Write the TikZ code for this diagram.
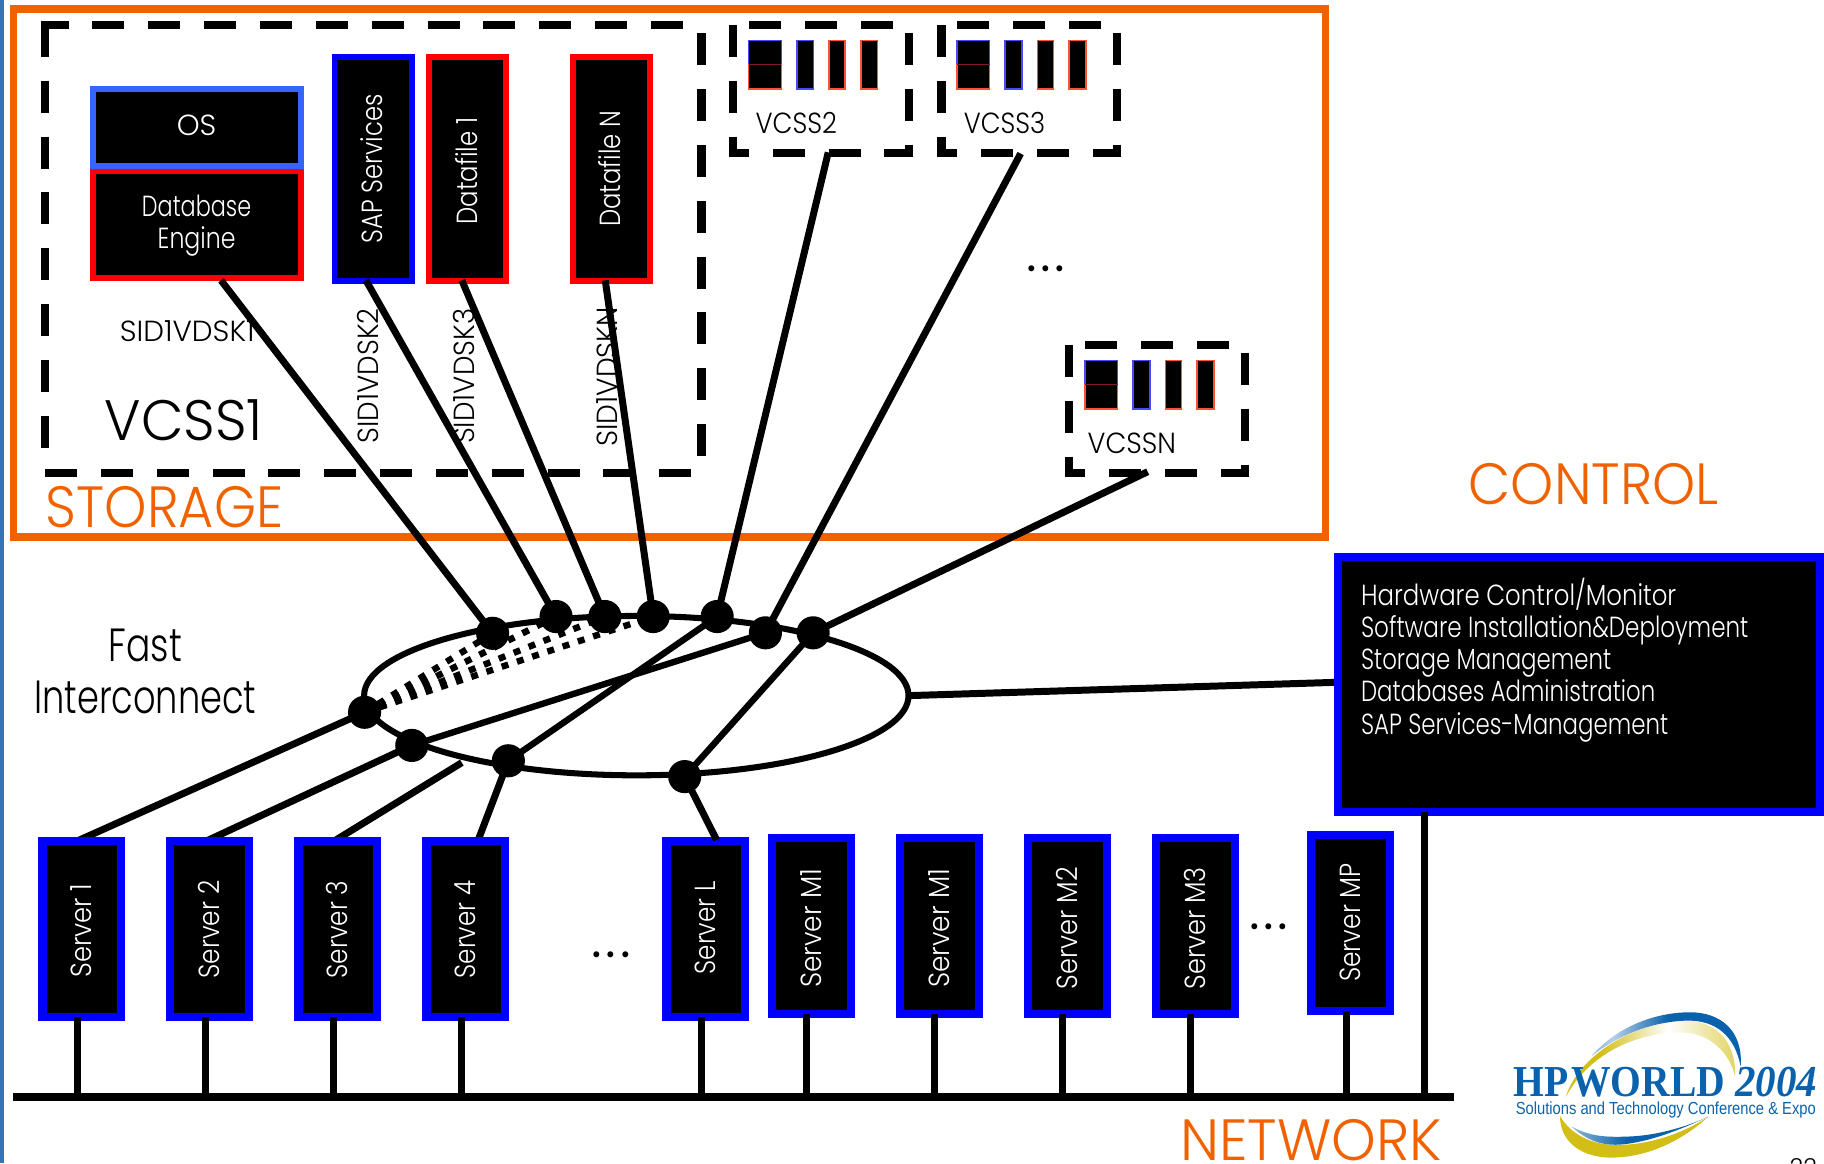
\documentclass[tikz,border=0pt]{standalone}
\usepackage{graphicx}
\usepackage{fontspec}
\setmainfont{Poppins}[UprightFont=* Light]
\newfontfamily\logoserif{Liberation Serif}
\newfontfamily\logosans{Liberation Sans}
\usetikzlibrary{calc,shapes.geometric}
\definecolor{orng}{HTML}{F06200}
\definecolor{srvblue}{HTML}{0000FF}
\definecolor{osblue}{HTML}{3366FF}
\definecolor{redb}{HTML}{FF0000}
\definecolor{strip}{HTML}{3274B6}
\definecolor{miniblue}{HTML}{4848FF}
\definecolor{minired}{HTML}{FF5030}
\definecolor{minimid}{HTML}{801A30}
\definecolor{hpblue}{HTML}{0B62AC}
\definecolor{hpgold}{HTML}{D2BE14}
\pgfdeclarehorizontalshading{bluearc}{100bp}{color(0bp)=(hpblue); color(22bp)=(hpblue!55); color(32bp)=(hpblue!30); color(50bp)=(hpblue); color(100bp)=(hpblue)}
\pgfdeclarehorizontalshading{goldarc}{100bp}{color(0bp)=(hpgold); color(35bp)=(hpgold); color(55bp)=(white); color(85bp)=(hpgold); color(100bp)=(hpgold)}
\pgfdeclarehorizontalshading{lowblue}{100bp}{color(0bp)=(white); color(30bp)=(hpblue!60); color(45bp)=(hpblue); color(100bp)=(hpblue)}
\newcommand\fw[3]{{\fontsize{#1bp}{#1bp}\selectfont\resizebox{#2bp}{\height}{#3}}}
\newcommand\threedots{{\fontsize{50bp}{50bp}\selectfont .\kern 3bp.\kern 3bp.}}
\pgfdeclarelayer{base}
\pgfdeclarelayer{lines}
\pgfsetlayers{base,lines,main}
\tikzset{
  stbox/.style={draw,fill=black,line width=5bp,inner sep=0pt,outer sep=0pt,text=white,align=center},
  srv/.style={draw=srvblue,fill=black,line width=7bp,minimum width=67.5bp,minimum height=151bp,inner sep=0pt,outer sep=0pt},
  lbl/.style={inner sep=0pt,outer sep=0pt,anchor=base},
  wlbl/.style={lbl,text=white},
  rot/.style={lbl,rotate=90},
  wrot/.style={wlbl,rotate=90},
  olbl/.style={lbl,text=orng},
  dashln/.style={line width=7bp,dash pattern=on 27.5bp off 20.5bp},
  conn/.style={line width=6bp},
  thin conn/.style={line width=5.5bp},
  wire/.style={line width=6bp},
  ringdot/.style={circle,fill=black,minimum size=28.5bp,inner sep=0pt,outer sep=0pt},
  fan/.style={line width=5.5bp,dash pattern=on 6bp off 7.8bp},
}
\newcommand\vcssdash[4]{%
  \draw[dashln] (#1,#3+.2) -- (#1,#4+3.5);
  \draw[dashln] (#1+13.7,#3) -- (#2,#3);
  \draw[dashln] (#2,#3+7) -- (#2,#4+3.5);
  \draw[dashln,dash phase=10.5bp] (#1-3.5,#4) -- (#2+3.5,#4);
  \begin{scope}[shift={(#1,#3)},line width=1.3bp]
    \draw[miniblue,fill=black] (13.2,13.7) rectangle (41.5,34.3);
    \draw[minired,fill=black] (13.2,34.3) rectangle (41.5,55.2);
    \draw[minimid] (13.2,34.3) -- (41.5,34.3);
    \draw[miniblue,fill=black] (54.7,13.7) rectangle (69.2,55.2);
    \draw[minired,fill=black] (82.4,13.7) rectangle (96.3,55.2);
    \draw[minired,fill=black] (109.7,13.7) rectangle (124.1,55.2);
  \end{scope}}
\begin{document}
\begin{tikzpicture}[x=1bp,y=-1bp]
\useasboundingbox (0,0) rectangle (1568,1000);
\begin{pgfonlayer}{base}
\fill[strip] (0,0) rectangle (3.6,1000);
\draw[orng,line width=6.6bp] (11.5,7.7) rectangle (1139.5,461.5);
% VCSS1 dashed frame
\draw[dashln] (38.5,21.4) -- (38.5,386);
\draw[dashln,dash phase=3.5bp] (35,21.4) -- (590,21.4);
\draw[dashln] (603,28.6) -- (603,393);
\draw[dashln] (38.7,406.5) -- (596,406.5);
\vcssdash{630.3}{781.4}{21.3}{131.3}
\vcssdash{809.3}{960.4}{21.3}{131.3}
\vcssdash{919.3}{1070.4}{296.3}{406.3}
% storage boxes
\node[stbox,draw=osblue,minimum width=178.5bp,minimum height=66bp] (os) at (169.5,109.5) {};
\node[stbox,draw=redb,minimum width=178.5bp,minimum height=91.3bp] (db) at (169.5,193.1) {};
\node[stbox,draw=srvblue,minimum width=66.5bp,minimum height=192.5bp] (sap) at (320.75,145.25) {};
\node[stbox,draw=redb,minimum width=66bp,minimum height=192.5bp] (df1) at (402,145.25) {};
\node[stbox,draw=redb,minimum width=66bp,minimum height=192.5bp] (dfn) at (525.5,145.25) {};
\node[wlbl] (tos) at (169,116.8) {\fw{25}{34}{OS}};
\node[wlbl] (tdb1) at (169,186.5) {\fw{25}{94}{Database}};
\node[wlbl] (tdb2) at (169,213.8) {\fw{25}{67}{Engine}};
\node[wrot] (tsap) at (328.9,145) {\fw{25}{128}{SAP Services}};
\node[wrot] (tdf1) at (410.6,147) {\fw{25}{92}{Datafile 1}};
\node[wrot] (tdfn) at (533.8,145) {\fw{25}{100}{Datafile N}};
\node[lbl] (sid1) at (161,293.5) {\fw{25}{116}{SID1VDSK1}};
\node[rot] (sid2) at (325.7,323) {\fw{25}{116}{SID1VDSK2}};
\node[rot] (sid3) at (407.8,323.5) {\fw{25}{116}{SID1VDSK3}};
\node[rot] (sidn) at (531,324) {\fw{25}{120}{SID1VDSKN}};
\node[lbl] (vc1) at (158,378.5) {\fw{49}{136}{VCSS1}};
\node[olbl] (tst) at (141.5,453.2) {\fw{50}{204}{STORAGE}};
\node[lbl] (vc2) at (684.5,114.6) {\fw{25}{70}{VCSS2}};
\node[lbl] (vc3) at (863.5,114.6) {\fw{25}{70}{VCSS3}};
\node[lbl] (vcn) at (973,389.8) {\fw{25}{76}{VCSSN}};
\node[lbl] (dots1) at (899,233) {\threedots};
\node[lbl] (fast) at (125,568.3) {\fw{40}{63}{Fast}};
\node[lbl] (inter) at (125,613) {\fw{40}{191}{Interconnect}};
\node[olbl] (tctl) at (1370,433.3) {\fw{50}{215}{CONTROL}};
\node[olbl] (tnet) at (1127,997.4) {\fw{50}{225}{NETWORK}};
\node[lbl] (dots2) at (525.5,823.2) {\threedots};
\node[lbl] (dots3) at (1091,799) {\threedots};
% logo
\begin{scope}[shift={(1203.5,842.4)},x=.28654bp,y=-.28654bp]
  \shade[shading=goldarc] (497,352) .. controls (530,240) and (680,130) .. (860,122) .. controls (960,125) and (1010,200) .. (1005,290) .. controls (990,220) and (930,160) .. (850,158) .. controls (700,155) and (560,230) .. (497,352) -- cycle;
  \shade[shading=bluearc] (575,228) .. controls (660,130) and (780,97) .. (870,97) .. controls (960,97) and (1030,150) .. (1022,260) .. controls (1005,170) and (950,120) .. (860,122) .. controls (750,125) and (650,170) .. (575,228) -- cycle;
  \fill[hpgold] (480,408) .. controls (480,490) and (550,535) .. (640,533) .. controls (760,530) and (860,470) .. (925,410) .. controls (850,460) and (750,495) .. (650,495) .. controls (570,495) and (510,460) .. (480,408) -- cycle;
  \shade[shading=lowblue] (515,440) .. controls (570,490) and (620,500) .. (680,492) .. controls (770,480) and (860,440) .. (925,410) .. controls (850,445) and (760,468) .. (680,470) .. controls (620,472) and (570,470) .. (515,440) -- cycle;
\end{scope}
\node[lbl,text=hpblue] (hpw) at (1392,943) {\logoserif\bfseries\fw{38}{182}{HP\kern-.18em{} WORLD}};
\node[lbl,text=hpblue] (hpy) at (1527,943) {\logoserif\bfseries\itshape\fw{38}{70.5}{2004}};
\node[lbl,text=hpblue] (hps) at (1432,958) {\logosans\fw{15}{258}{Solutions and Technology Conference \& Expo}};
\end{pgfonlayer}
% ring and dots
\coordinate (srvthree) at (397,655.6);
\node[draw,ellipse,line width=5.2bp,minimum width=468bp,minimum height=137bp,inner sep=0pt,outer sep=0pt] (ring) at (547,598) {};
\node[ringdot] (a) at (313.4,612.3) {};
\node[ringdot] (b) at (354,640.8) {};
\node[ringdot] (c) at (437,654) {};
\node[ringdot] (d) at (588.6,667.6) {};
\node[ringdot] (e) at (423.5,544.4) {};
\node[ringdot] (f) at (478,530) {};
\node[ringdot] (g) at (520,530) {};
\node[ringdot] (h) at (561.5,530) {};
\node[ringdot] (i) at (616.5,530) {};
\node[ringdot] (j) at (658,544) {};
\node[ringdot] (k) at (699,544) {};
% servers
\node[srv] (s1) at (70.25,798.5) {};
\node[srv] (s2) at (180.25,798.5) {};
\node[srv] (s3) at (290.4,798.5) {};
\node[srv] (s4) at (400.4,798.5) {};
\node[srv] (sl) at (606.65,798.5) {};
\node[srv] (m1) at (697.7,796) {};
\node[srv] (m1b) at (807.5,796) {};
\node[srv] (m2) at (917.7,796) {};
\node[srv] (m3) at (1027.7,796) {};
\node[srv] (mp) at (1160.85,793.25) {};
\node[wrot] (ts1) at (78.3,800) {\fw{25}{81}{Server 1}};
\node[wrot] (ts2) at (188.7,799) {\fw{25}{84}{Server 2}};
\node[wrot] (ts3) at (298.7,799) {\fw{25}{84}{Server 3}};
\node[wrot] (ts4) at (408.75,799) {\fw{25}{84}{Server 4}};
\node[wrot] (tsl) at (615,797.6) {\fw{25}{80}{Server L}};
\node[wrot] (tm1) at (705.9,798) {\fw{25}{102}{Server M1}};
\node[wrot] (tm1b) at (816,798) {\fw{25}{102}{Server M1}};
\node[wrot] (tm2) at (926,798) {\fw{25}{105}{Server M2}};
\node[wrot] (tm3) at (1036,798) {\fw{25}{105}{Server M3}};
\node[wrot] (tmp) at (1169.8,793) {\fw{25}{102}{Server MP}};
% control box
\node[draw=srvblue,fill=black,line width=7bp,minimum width=414bp,minimum height=219bp,inner sep=0pt,outer sep=0pt] (ctl) at (1357.5,588.5) {};
\node[wlbl,anchor=base west] (c1) at (1170,520.6) {\fw{25}{271}{Hardware Control/Monitor}};
\node[wlbl,anchor=base west] (c2) at (1170,548.2) {\fw{25}{333}{Software Installation\&Deployment}};
\node[wlbl,anchor=base west] (c3) at (1170,575.8) {\fw{25}{215}{Storage Management}};
\node[wlbl,anchor=base west] (c4) at (1170,603.4) {\fw{25}{253}{Databases Administration}};
\node[wlbl,anchor=base west] (c5) at (1170,631) {\fw{25}{264}{SAP Services-Management}};
\node[lbl,anchor=north east] (pgn) at (1562,995.5) {\fw{20}{23.5}{22}};
% connectors behind server and control boxes
\begin{pgfonlayer}{lines}
\draw[conn] (190,241) coordinate (fromdb) -- (e.center);
\draw[conn] (314.6,241) coordinate (fromsap) -- (f.center);
\draw[conn] (397,241) coordinate (fromdf1) -- (g.center);
\draw[conn] (520.3,241) coordinate (fromdfn) -- (h.center);
\draw[conn] (712,131) coordinate (fromv2) -- (i.center);
\draw[conn] (877.4,132) coordinate (fromv3) -- (j.center);
\draw[conn] (986.6,405.5) coordinate (fromvn) -- (k.center);
\draw[conn] (61.8,725) coordinate (froms1) -- (a.center);
\draw[conn] (173,725) coordinate (froms2) -- (b.center);
\draw[conn] (284,725) coordinate (froms3) -- (srvthree);
\draw[conn] (410,725) coordinate (froms4) -- (c.center);
\draw[thin conn] (c.center) -- (i.center);
\draw[thin conn] (b.center) -- (j.center);
\draw[thin conn] (d.center) -- (k.center);
\draw[conn] (781,598) coordinate (ringr) -- (1150,586.5) coordinate (ctll);
\draw[fan] (a.center) -- (e.center);
\draw[fan] (a.center) -- (f.center);
\draw[fan] (a.center) -- (g.center);
\draw[fan] (a.center) -- (h.center);
\end{pgfonlayer}
\draw[conn] (616,722) coordinate (fromsl) -- (d.center);
% network
\coordinate (busl) at (11,943);
\coordinate (busr) at (1250,943);
\draw[line width=7.2bp] (busl) -- (busr);
\foreach \n in {s1,s2,s3,s4,sl}
  \draw[wire] ([xshift=-4bp]\n.south) -- ([xshift=-4bp]\n.south |- busl);
\foreach \n in {m1,m1b,m2,m3}
  \draw[wire] ([xshift=-4.4bp]\n.south) -- ([xshift=-4.4bp]\n.south |- busl);
\draw[wire] ([xshift=-3.6bp]mp.south) -- ([xshift=-3.6bp]mp.south |- busl);
\draw[wire] (1224.4,698) coordinate (ctlwire) -- (ctlwire |- busl);
\end{tikzpicture}
\end{document}
